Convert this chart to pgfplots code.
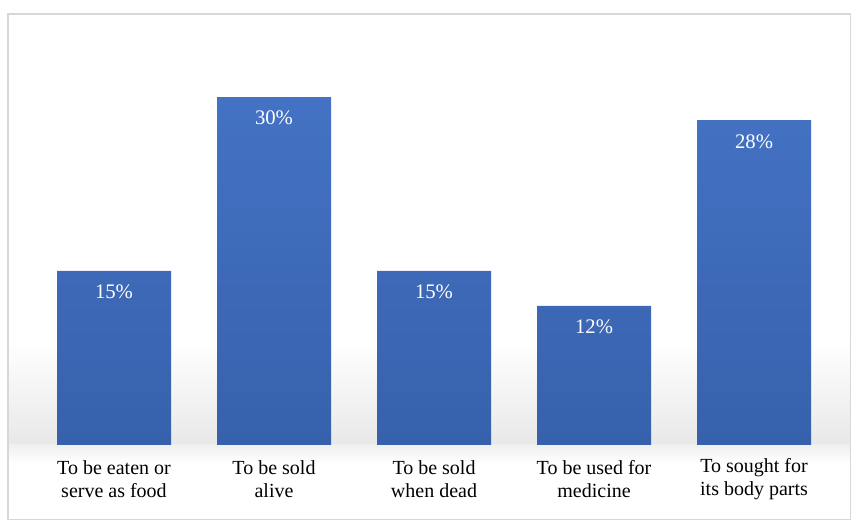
\documentclass[border=0pt]{standalone}
\usepackage{pgfplots}
\pgfplotsset{compat=1.18}
\usepackage{fontspec}
\setmainfont{Liberation Serif}
\definecolor{bartop}{RGB}{68,114,196}
\definecolor{barbot}{RGB}{54,97,172}
\definecolor{framegray}{RGB}{215,215,215}
\begin{document}
\begin{tikzpicture}
\path[use as bounding box] (-6pt,0) rectangle (632.25pt,390pt);
\fill[top color=white, bottom color=black!9] (0,56.25pt) rectangle (632.25pt,134.55pt);
\fill[top color=black!6, bottom color=white] (0,42pt) rectangle (632.25pt,56.25pt);
\begin{axis}[
  name=ax,
  anchor=south west,
  at={(0,0)},
  scale only axis,
  width=632.25pt,
  height=379.5pt,
  xmin=-0.6625, xmax=4.606,
  ymin=-6.47, ymax=37.16,
  axis line style={framegray, line width=1pt},
  ytick=\empty,
  xtick={0,1,2,3,4},
  xticklabels={{To be eaten or\\serve as food},{To be sold\\alive},{To be sold\\when dead},{To be used for\\medicine},{To sought for\\its body parts}},
  major tick length=0pt,
  xticklabel style={align=center, anchor=center, yshift=30.4pt, font=\rmfamily\fontsize{15}{17.25}\selectfont},
  ybar,
  bar width=85.5pt,
  /pgf/number format/assume math mode=true,
  nodes near coords={\pgfmathprintnumber{\pgfplotspointmeta}\%},
  nodes near coords style={anchor=north, yshift=-7pt, text=white, font=\rmfamily\fontsize{15.5}{17}\selectfont},
  clip=false,
]
\addplot[draw=none, top color=bartop, bottom color=barbot] coordinates {(0,15) (1,30) (2,15) (3,12) (4,28)};
\end{axis}
\end{tikzpicture}
\end{document}
